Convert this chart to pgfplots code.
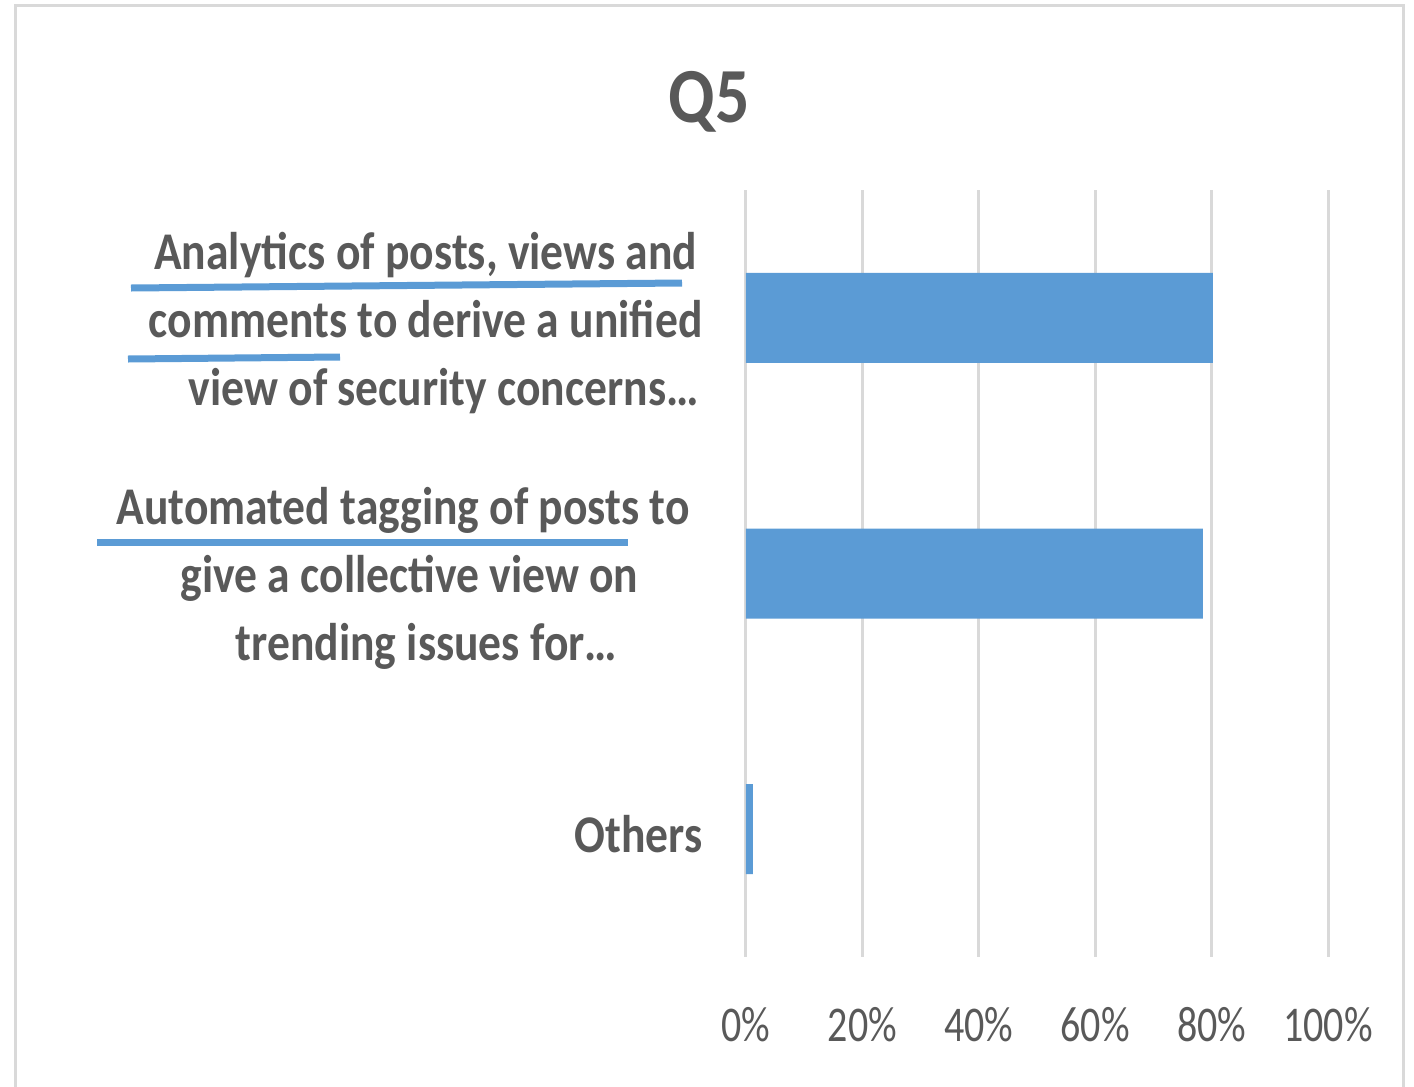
\documentclass[border=0pt]{standalone}
\usepackage{pgfplots}
\pgfplotsset{compat=1.18}
\usepackage{fontspec}
\setmainfont{Carlito}
\newfontfamily\catfont[FakeStretch=0.86]{Carlito}
\newfontfamily\tickfont[FakeStretch=0.8]{Carlito}
\newfontfamily\titlefont[FakeStretch=0.87]{Carlito}
\definecolor{txt}{HTML}{595959}
\definecolor{barc}{HTML}{5B9BD5}
\definecolor{gridc}{HTML}{D9D9D9}
\begin{document}
\begin{tikzpicture}
\path[use as bounding box] (0pt,0pt) rectangle (707pt,-543.5pt);
\draw[gridc, line width=1.5pt] (7.5pt,-545pt) -- (7.5pt,-2.5pt) -- (701.5pt,-2.5pt) -- (701.5pt,-545pt);
\node[anchor=base, text=txt, font=\titlefont\bfseries\fontsize{39}{46}\selectfont] at (354.5pt,-61pt) {Q5};
\begin{axis}[
  at={(373pt,-478.5pt)}, anchor=south west,
  scale only axis, width=291pt, height=383.5pt,
  xbar, bar width=45pt,
  xmin=0, xmax=100, ymin=0.5, ymax=3.5, y dir=reverse,
  xtick={0,20,40,60,80,100},
  xticklabels={0\%,20\%,40\%,60\%,80\%,100\%},
  ytick={1,2,3},
  yticklabels={{Analytics of posts, views and\\comments to derive a unified\\\rule{18pt}{0pt}view of security concerns…},{Automated tagging of posts to\rule{6.5pt}{0pt}\\give a collective view on\\\rule{17pt}{0pt}trending issues for…},{Others}},
  xmajorgrids, grid style={gridc, line width=1.5pt},
  axis line style={draw=none}, major tick length=0pt,
  tick label style={text=txt},
  xticklabel style={font=\tickfont\fontsize{25}{30}\selectfont, inner sep=0pt, anchor=north, yshift=-25pt},
  yticklabel style={font=\catfont\bfseries\fontsize{26.5}{34}\selectfont, align=center, inner sep=0pt, anchor=east, xshift=-21.5pt, yshift=-2.5pt},
]
\addplot[fill=barc, draw=none] coordinates {(80.2,1) (78.5,2) (1.2,3)};
\end{axis}
\draw[barc, line width=3.5pt] (65.5pt,-144pt) -- (341pt,-141.5pt);
\draw[barc, line width=3.5pt] (64pt,-179.5pt) -- (170pt,-178.5pt);
\draw[barc, line width=3.5pt] (48.5pt,-271pt) -- (314pt,-271pt);
\end{tikzpicture}
\end{document}
